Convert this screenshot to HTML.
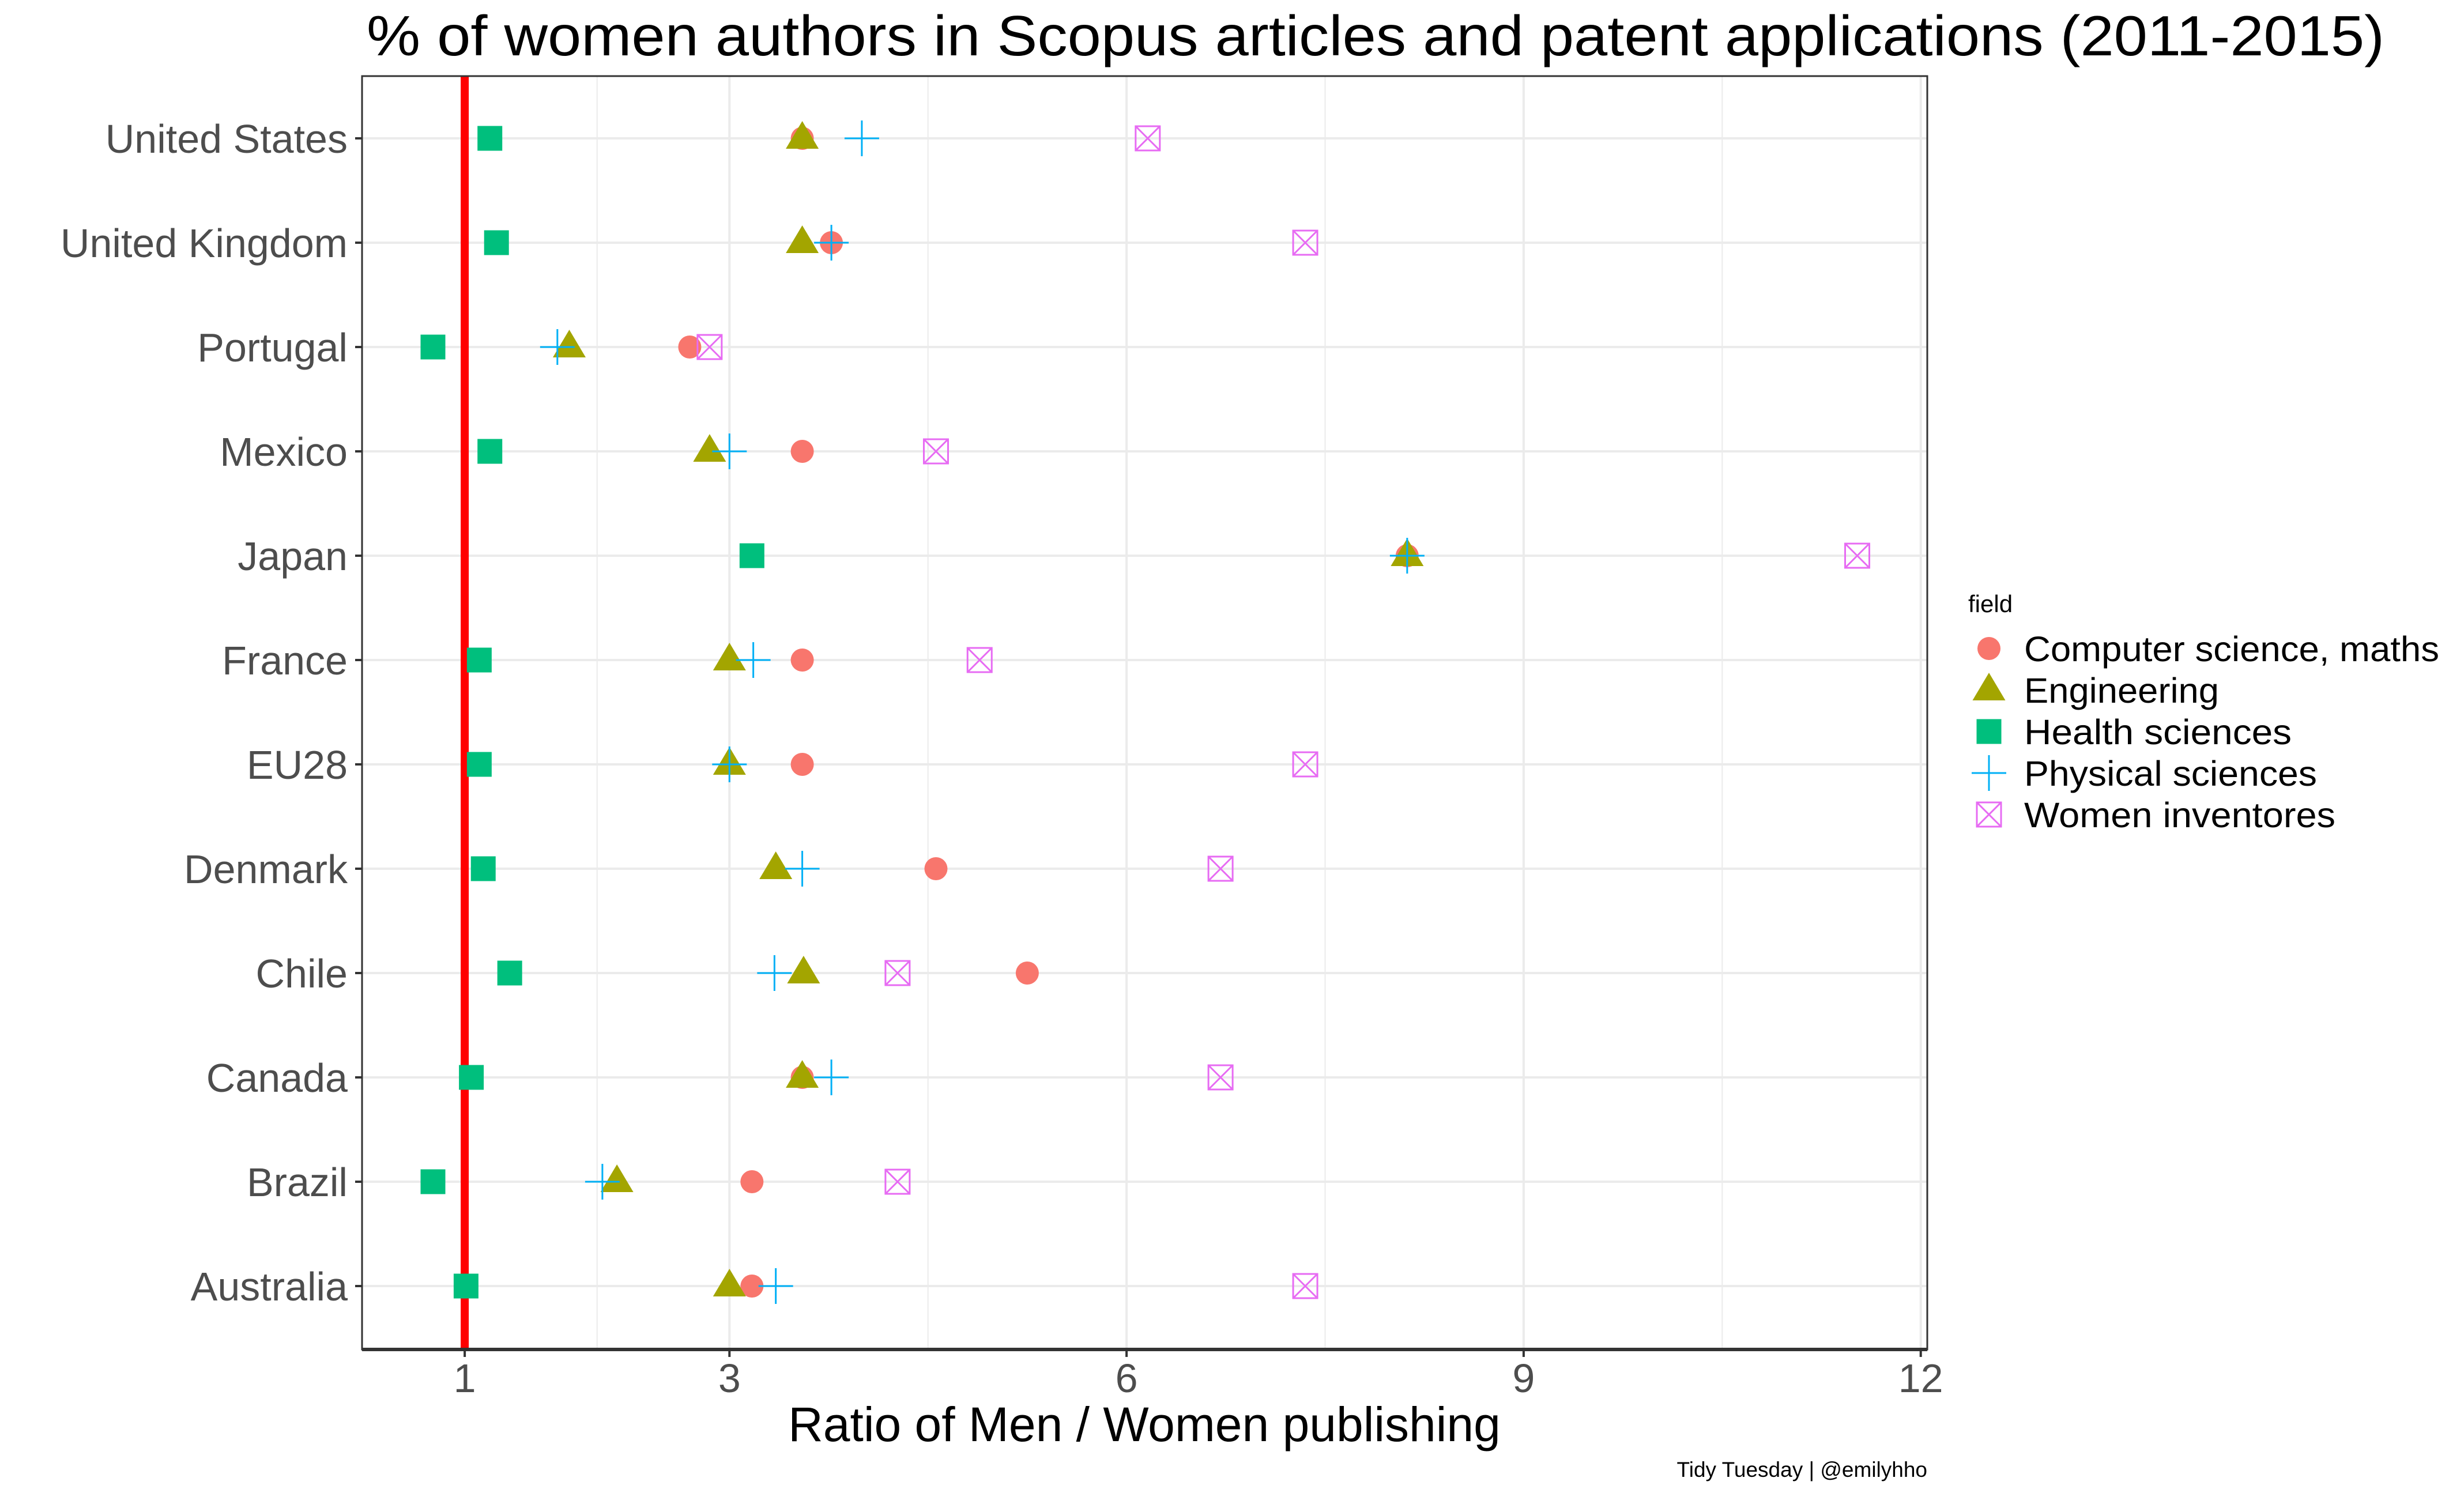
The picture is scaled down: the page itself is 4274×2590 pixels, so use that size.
<!DOCTYPE html>
<html><head><meta charset="utf-8"><style>
html,body{margin:0;padding:0;background:#fff;}
svg{display:block;font-family:"Liberation Sans",Arial,sans-serif;}
</style></head><body>
<svg id="chart" width="4274" height="2590" viewBox="0 0 4274 2590" xmlns="http://www.w3.org/2000/svg">
<rect x="0" y="0" width="4274" height="2590" fill="#fff"/>
<text x="636" y="96" font-size="98" fill="#000" textLength="3500" lengthAdjust="spacingAndGlyphs">% of women authors in Scopus articles and patent applications (2011-2015)</text>
<g id="grid"></g>
<g id="refline"></g>
<g id="marks"></g>
<rect x="628" y="132" width="2715" height="2209" fill="none" stroke="#333" stroke-width="3"/>
<line x1="628" y1="2341" x2="3343" y2="2341" stroke="#333" stroke-width="6"/>
<g id="yaxis"></g>
<g id="xaxis"></g>
<text x="1985" y="2500" font-size="84" text-anchor="middle" fill="#000">Ratio of Men / Women publishing</text>
<text x="3343" y="2562" font-size="37" text-anchor="end" fill="#000">Tidy Tuesday | @emilyhho</text>
<g id="legend">
<text x="3414" y="1062" font-size="42" fill="#000">field</text>
</g>
</svg>
<script>
const countries = ["United States","United Kingdom","Portugal","Mexico","Japan","France","EU28","Denmark","Chile","Canada","Brazil","Australia"];
const csMaths   = [3.55,3.77,2.70,3.55,8.12,3.55,3.55,4.56,5.25,3.55,3.17,3.17];
const engineering=[3.55,3.55,1.79,2.85,8.12,3.00,3.00,3.35,3.56,3.55,2.15,3.00];
const health    = [1.19,1.24,0.76,1.19,3.17,1.11,1.11,1.14,1.34,1.05,0.76,1.01];
const physical  = [4.00,3.77,1.70,3.00,8.12,3.18,3.00,3.55,3.34,3.77,2.04,3.35];
const inventors = [6.16,7.35,2.85,4.56,11.52,4.89,7.35,6.71,4.27,6.71,4.27,7.35];
const xTicks = [1,3,6,9,12];
const xMinor = [2,4.5,7.5,10.5];
const refValue = 1;
const fieldNames = ["Computer science, maths","Engineering","Health sciences","Physical sciences","Women inventores"];
const legendWidths = [720,338,464,508,540];

const NS="http://www.w3.org/2000/svg";
const PL=628, PR=3343, PT=132, PB=2341;
function xs(v){ return 576.5 + v*229.6; }
function ys(i){ return 240 + i*181; }
function mk(tag, attrs, parent){
  const e=document.createElementNS(NS,tag);
  for(const k in attrs) e.setAttribute(k, attrs[k]);
  parent.appendChild(e); return e;
}
const grid=document.getElementById('grid');
xMinor.forEach(v=>{
  const l=mk('line',{x1:xs(v),x2:xs(v),y1:PT,y2:PB,stroke:'#ebebeb','stroke-width':2},grid);
  
  
});
xTicks.forEach(v=>{
  const l=mk('line',{x1:xs(v),x2:xs(v),y1:PT,y2:PB,stroke:'#ebebeb','stroke-width':4},grid);
  
  
});
countries.forEach((c,i)=>{
  const l=mk('line',{x1:PL,x2:PR,y1:ys(i),y2:ys(i),stroke:'#ebebeb','stroke-width':4},grid);
  
  
});
const ref=document.getElementById('refline');
const rl=mk('line',{x1:xs(refValue),x2:xs(refValue),y1:PT,y2:PB,stroke:'#ff0000','stroke-width':14},ref);



const colors=['#F8766D','#A3A500','#00BF7D','#00B0F6','#E76BF3'];
function shape(k,cx,cy,parent){
  let e;
  if(k===0){ e=mk('circle',{cx:cx,cy:cy,r:20,fill:colors[0]},parent); }
  else if(k===1){ e=mk('polygon',{points:`${cx},${cy-30} ${cx-28.5},${cy+18} ${cx+28.5},${cy+18}`,fill:colors[1]},parent); }
  else if(k===2){ e=mk('rect',{x:cx-21.5,y:cy-21.5,width:43,height:43,fill:colors[2]},parent); }
  else if(k===3){ e=mk('path',{d:`M${cx-30},${cy}H${cx+30}M${cx},${cy-31}V${cy+31}`,stroke:colors[3],'stroke-width':3,fill:'none'},parent); }
  else { e=mk('path',{d:`M${cx-21},${cy-21}h42v42h-42zM${cx-21},${cy-21}L${cx+21},${cy+21}M${cx+21},${cy-21}L${cx-21},${cy+21}`,stroke:colors[4],'stroke-width':3,fill:'none'},parent); }
  return e;
}
const marks=document.getElementById('marks');
const series=[csMaths,engineering,health,physical,inventors];
const snames=['point-cs-maths','point-engineering','point-health','point-physical','point-inventors'];
series.forEach((arr,k)=>{
  arr.forEach((v,i)=>{
    const e=shape(k,xs(v),ys(i),marks);
    
    
  });
});
const ya=document.getElementById('yaxis');
countries.forEach((c,i)=>{
  const t=mk('line',{x1:616,x2:PL,y1:ys(i),y2:ys(i),stroke:'#333','stroke-width':4},ya);
  
  
  const tx=mk('text',{x:603,y:ys(i)+25,'font-size':70,'text-anchor':'end',fill:'#4d4d4d'},ya);
  tx.textContent=c;
  
  
});
const xa=document.getElementById('xaxis');
xTicks.forEach(v=>{
  const t=mk('line',{x1:xs(v),x2:xs(v),y1:PB,y2:PB+13,stroke:'#333','stroke-width':4},xa);
  
  
  const tx=mk('text',{x:xs(v),y:2415,'font-size':70,'text-anchor':'middle',fill:'#4d4d4d'},xa);
  tx.textContent=String(v);
  
  
});
const lg=document.getElementById('legend');
const ly=[1125,1197,1269,1341,1413];
fieldNames.forEach((n,k)=>{
  const s=shape(k,3450,ly[k],lg);
  
  
  const tx=mk('text',{x:3511,y:ly[k]+22,'font-size':61,fill:'#000',textLength:legendWidths[k],lengthAdjust:'spacingAndGlyphs'},lg);
  tx.textContent=n;
  
  
});
</script>
</body></html>
